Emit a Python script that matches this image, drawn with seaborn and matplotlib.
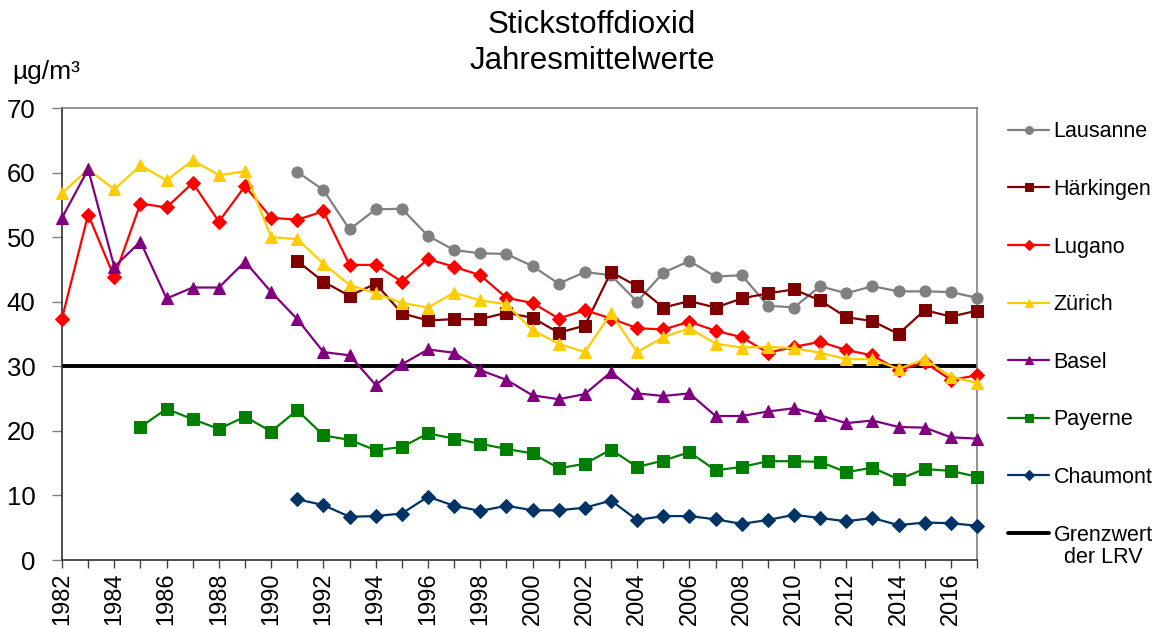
import numpy as np
import pandas as pd
import matplotlib
matplotlib.use("Agg")
import matplotlib.pyplot as plt
import seaborn as sns

years = list(range(1982, 2018))
nan = np.nan

lausanne = [nan] * 9 + [60.1, 57.3, 51.2, 54.3, 54.4, 50.2, 48.0, 47.5, 47.4, 45.5,
                        42.8, 44.6, 44.1, 40.0, 44.5, 46.3, 43.9, 44.1, 39.4, 39.1,
                        42.4, 41.3, 42.4, 41.6, 41.6, 41.5, 40.6]
haerkingen = [nan] * 9 + [46.3, 43.1, 40.9, 42.8, 38.2, 37.1, 37.3, 37.3, 38.3, 37.5,
                          35.2, 36.3, 44.6, 42.4, 39.1, 40.1, 39.1, 40.5, 41.3, 41.9,
                          40.2, 37.6, 37.0, 35.0, 38.7, 37.7, 38.6]
lugano = [37.4, 53.5, 43.8, 55.2, 54.6, 58.4, 52.4, 57.9, 53.0, 52.7, 54.0, 45.7,
          45.7, 43.1, 46.6, 45.4, 44.1, 40.6, 39.8, 37.4, 38.7, 37.4, 35.9, 35.7,
          36.9, 35.5, 34.5, 32.1, 33.0, 33.8, 32.5, 31.7, 29.4, 30.6, 27.9, 28.6]
zuerich = [56.8, 60.5, 57.4, 61.1, 58.8, 61.9, 59.6, 60.2, 50.0, 49.7, 45.9, 42.6,
           41.3, 39.8, 39.1, 41.4, 40.2, 39.6, 35.6, 33.5, 32.2, 38.2, 32.2, 34.5,
           35.9, 33.5, 32.9, 33.0, 32.8, 32.1, 31.1, 31.1, 29.6, 31.1, 28.4, 27.4]
basel = [53.0, 60.5, 45.4, 49.3, 40.5, 42.2, 42.2, 46.2, 41.5, 37.3, 32.2, 31.7,
         27.1, 30.3, 32.6, 32.1, 29.4, 27.9, 25.5, 24.9, 25.7, 29.1, 25.8, 25.4,
         25.8, 22.3, 22.3, 23.0, 23.5, 22.4, 21.2, 21.6, 20.6, 20.5, 19.0, 18.8]
payerne = [nan] * 3 + [20.6, 23.4, 21.8, 20.3, 22.2, 19.9, 23.2, 19.3, 18.6, 17.0,
                       17.5, 19.6, 18.8, 18.0, 17.2, 16.5, 14.2, 14.9, 17.1, 14.4,
                       15.4, 16.7, 13.9, 14.4, 15.3, 15.3, 15.2, 13.6, 14.3, 12.5,
                       14.1, 13.8, 12.9]
chaumont = [nan] * 9 + [9.4, 8.5, 6.7, 6.8, 7.2, 9.8, 8.4, 7.6, 8.4, 7.7, 7.7, 8.1,
                        9.2, 6.2, 6.8, 6.8, 6.3, 5.6, 6.2, 7.0, 6.5, 6.0, 6.5, 5.4,
                        5.8, 5.7, 5.3]
grenzwert = 30

stations = ["Lausanne", "Härkingen", "Lugano", "Zürich", "Basel", "Payerne", "Chaumont"]
values = [lausanne, haerkingen, lugano, zuerich, basel, payerne, chaumont]
colors = ["#808080", "#7F0000", "#FF0000", "#FFCC00", "#800080", "#008000", "#003366"]
markers = ["o", "s", "D", "^", "^", "s", "D"]
msizes = [8, 9, 7, 9, 9, 9, 7]

df = pd.DataFrame({
    "Jahr": np.tile(years, len(stations)),
    "Station": np.repeat(stations, len(years)),
    "NO2": np.concatenate([np.array(v, dtype=float) for v in values]),
})

sns.set_style("white")
plt.rcParams["font.family"] = ["Liberation Sans", "DejaVu Sans"]
plt.rcParams["text.color"] = "black"
plt.rcParams["xtick.labelcolor"] = "black"
plt.rcParams["ytick.labelcolor"] = "black"

fig = plt.figure(figsize=(11.63, 6.28), dpi=100)
ax = fig.add_axes([62 / 1163, 1 - 560 / 628, (977 - 62) / 1163, (560 - 108) / 628])

for name, col, mk, ms in zip(stations, colors, markers, msizes):
    sub = df[df["Station"] == name].dropna()
    sns.lineplot(data=sub, x="Jahr", y="NO2", ax=ax, color=col, marker=mk,
                 markersize=ms, markeredgecolor=col, linewidth=1.6,
                 label=name, clip_on=False, zorder=3)

ax.axhline(grenzwert, color="black", linewidth=2.8, zorder=2, label="Grenzwert")

ax.set_xlim(1982, 2017)
ax.set_ylim(0, 70)
ax.set_xlabel("")
ax.set_ylabel("")
ax.set_xticks(range(1982, 2017, 2))
ax.set_xticks(range(1982, 2018), minor=True)
ax.set_yticks(range(0, 71, 10))
ax.tick_params(axis="x", which="both", direction="out", length=6, width=1,
               color="#404040", labelcolor="black", bottom=True, labelsize=17,
               rotation=90, pad=3)
ax.tick_params(axis="y", direction="out", length=7, width=1, color="#808080",
               labelcolor="black", left=True, labelsize=18.5, pad=12)

for side in ["left", "bottom"]:
    ax.spines[side].set_color("#303030")
    ax.spines[side].set_linewidth(1.2)
for side in ["top", "right"]:
    ax.spines[side].set_color("#808080")
    ax.spines[side].set_linewidth(1.2)

fig.text(592 / 1163, 1 - 10 / 628, "Stickstoffdioxid\nJahresmittelwerte", ha="center", va="top",
         fontsize=22.5, linespacing=1.28, color="black")
fig.text(12 / 1163, 1 - 72 / 628, "µg/m³", ha="left", va="center", fontsize=19, color="black")

handles, labels = ax.get_legend_handles_labels()
leg = ax.legend(handles, labels, loc="upper left", bbox_to_anchor=(989 / 1163, 1 - 102 / 628),
                bbox_transform=fig.transFigure, frameon=False, fontsize=15.5,
                labelspacing=1.70, handlelength=1.9, handletextpad=0.2, markerscale=0.7,
                labelcolor="black")

# second line of the limit-value label, centred under "Grenzwert"
fig.canvas.draw()
renderer = fig.canvas.get_renderer()
bb = leg.get_texts()[-1].get_window_extent(renderer)
xc = (bb.x0 + bb.x1) / 2 / fig.bbox.width
ytop = bb.y0 / fig.bbox.height
fig.text(xc, ytop - 1 / 628, "der LRV", ha="center", va="top", fontsize=15.5, color="black")

fig.savefig("out.png", dpi=100)
